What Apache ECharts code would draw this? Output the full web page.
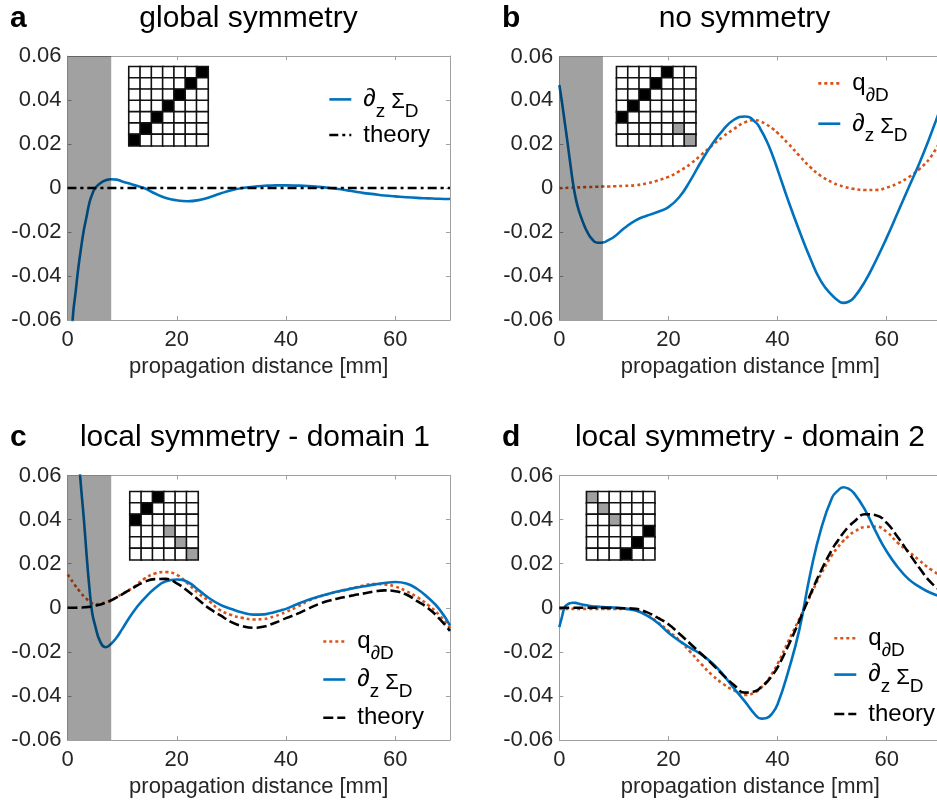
<!DOCTYPE html>
<html>
<head>
<meta charset="utf-8">
<script src="https://cdn.jsdelivr.net/npm/echarts@6/dist/echarts.min.js"></script>
<style>
  html, body { margin: 0; padding: 0; overflow: hidden; background: #fff; }
  #chart { width: 945px; height: 801px; }
</style>
</head>
<body>
<div id="chart"></div>
<script>
// propagation distance samples [mm], shared by every curve
const distance = [0, 0.5, 1, 1.5, 2, 2.5, 3, 3.5, 4, 4.5, 5,
  6, 7, 8, 9, 10,
  12, 14, 16, 18, 20,
  22, 24, 26, 28, 30,
  32, 34, 36, 37, 38, 39, 40,
  42, 44, 46, 48, 50,
  51, 52, 53, 54, 56, 58, 60,
  62, 64, 66, 68, 70];

// (a) global symmetry
const aDz = [-0.110, -0.082, -0.058, -0.047, -0.036, -0.027, -0.019, -0.013, -0.0068, -0.003, -0.0003,
  0.0022, 0.0035, 0.0040, 0.0038, 0.0030,
  0.0015, 0.0000, -0.0025, -0.0045, -0.0056,
  -0.0060, -0.0055, -0.0042, -0.0025, -0.0010,
  0.0000, 0.0006, 0.0010, 0.0011, 0.0012, 0.0012, 0.0012,
  0.0011, 0.0009, 0.0005, 0.0000, -0.0006,
  -0.0010, -0.0014, -0.0018, -0.0022, -0.0028, -0.0034, -0.0038,
  -0.0042, -0.0045, -0.0047, -0.0049, -0.0050];
const aTheoryX = [0, 70];
const aTheory = [0, 0];

// (b) no symmetry
const bQ = [0, 0.0001, 0.0001, 0.0002, 0.0002, 0.0003, 0.0003, 0.0004, 0.0004, 0.0005, 0.0005,
  0.0006, 0.0007, 0.0008, 0.0008, 0.0009,
  0.0011, 0.0014, 0.0022, 0.0035, 0.0052,
  0.0078, 0.0110, 0.0152, 0.0195, 0.0235,
  0.0270, 0.0300, 0.0310, 0.0303, 0.0290, 0.0273, 0.0252,
  0.0202, 0.0148, 0.0096, 0.0055, 0.0027,
  0.0016, 0.0008, 0.0002, -0.0003, -0.0008, -0.0008, 0.0003,
  0.0022, 0.0050, 0.0088, 0.0140, 0.0225];
const bDz = [0.047, 0.039, 0.030, 0.021, 0.0115, 0.0025, -0.0045, -0.0095, -0.0132, -0.0165, -0.0193,
  -0.0232, -0.0248, -0.0247, -0.0236, -0.0222,
  -0.0180, -0.0146, -0.0125, -0.0108, -0.0086,
  -0.0040, 0.0035, 0.0122, 0.0200, 0.0265,
  0.0312, 0.0327, 0.0300, 0.0263, 0.0215, 0.0155, 0.0085,
  -0.0060, -0.0195, -0.0320, -0.0425, -0.0488,
  -0.0510, -0.0522, -0.0517, -0.0498, -0.0425, -0.0330, -0.0225,
  -0.0112, 0.0002, 0.0115, 0.0240, 0.0375];

// (c) local symmetry - domain 1
const cQ = [0.0150, 0.0135, 0.0115, 0.0098, 0.0082, 0.0066, 0.0052, 0.0040, 0.0028, 0.0020, 0.0016,
  0.0018, 0.0024, 0.0033, 0.0048, 0.0062,
  0.0092, 0.0130, 0.0155, 0.0162, 0.0149,
  0.0110, 0.0065, 0.0028, -0.0012, -0.0033,
  -0.0046, -0.0053, -0.0051, -0.0045, -0.0038, -0.0029, -0.0019,
  0.0004, 0.0030, 0.0050, 0.0064, 0.0075,
  0.0082, 0.0088, 0.0094, 0.0100, 0.0108, 0.0106, 0.0096,
  0.0075, 0.0048, 0.0012, -0.0032, -0.0092];
const cDz = [0.130, 0.112, 0.096, 0.082, 0.069, 0.054, 0.040, 0.0238, 0.0093, -0.0020, -0.0075,
  -0.0155, -0.0179, -0.0163, -0.0135, -0.0097,
  -0.0020, 0.0040, 0.0088, 0.0120, 0.0128,
  0.0117, 0.0080, 0.0042, 0.0013, -0.0006,
  -0.0022, -0.0031, -0.0030, -0.0025, -0.0019, -0.0012, -0.0005,
  0.0016, 0.0035, 0.0051, 0.0065, 0.0077,
  0.0082, 0.0087, 0.0092, 0.0096, 0.0105, 0.0112, 0.0117,
  0.0110, 0.0085, 0.0045, -0.0005, -0.0080];
const cTheory = [0, 0, 0, 0, 0.0001, 0.0001, 0.0002, 0.0003, 0.0004, 0.0006, 0.0009,
  0.0015, 0.0024, 0.0034, 0.0047, 0.0061,
  0.0090, 0.0116, 0.0130, 0.0131, 0.0111,
  0.0076, 0.0035, -0.0004, -0.0035, -0.0065,
  -0.0083, -0.0091, -0.0085, -0.0077, -0.0068, -0.0058, -0.0047,
  -0.0028, -0.0005, 0.0017, 0.0033, 0.0045,
  0.0050, 0.0055, 0.0060, 0.0064, 0.0073, 0.0079, 0.0075,
  0.0060, 0.0030, -0.0002, -0.0048, -0.0105];

// (d) local symmetry - domain 2
const dQ = [-0.0005, -0.0005, -0.0005, -0.0005, -0.0005, -0.0005, -0.0005, -0.0005, -0.0005, -0.0005, -0.0005,
  -0.0005, -0.0005, -0.0005, -0.0005, -0.0005,
  -0.0005, -0.0012, -0.0032, -0.0065, -0.0105,
  -0.0148, -0.0200, -0.0255, -0.0305, -0.0345,
  -0.0375, -0.0396, -0.0382, -0.0362, -0.0335, -0.0298, -0.0255,
  -0.0150, -0.0050, 0.0055, 0.0155, 0.0240,
  0.0273, 0.0302, 0.0325, 0.0344, 0.0366, 0.0368, 0.0344,
  0.0295, 0.0255, 0.0215, 0.0175, 0.0145];
const dDz = [-0.0088, -0.0040, 0.0003, 0.0015, 0.0021, 0.0023, 0.0022, 0.0019, 0.0016, 0.0013, 0.0011,
  0.0007, 0.0005, 0.0003, 0.0002, 0.0001,
  -0.0004, -0.0013, -0.0035, -0.0068, -0.0113,
  -0.0150, -0.0182, -0.0212, -0.0251, -0.0303,
  -0.0365, -0.0425, -0.0488, -0.0503, -0.0500, -0.0480, -0.0438,
  -0.0285, -0.0098, 0.0155, 0.0360, 0.0500,
  0.0530, 0.0547, 0.0540, 0.0520, 0.0445, 0.0345, 0.0255,
  0.0185, 0.0130, 0.0095, 0.0068, 0.0050];
const dTheory = [0, 0, 0, 0, 0, 0, 0, 0, 0, 0, 0,
  0, 0, 0, -0.0001, -0.0001,
  -0.0002, -0.0005, -0.0020, -0.0045, -0.0075,
  -0.0118, -0.0163, -0.0209, -0.0255, -0.0305,
  -0.0350, -0.0385, -0.0378, -0.0360, -0.0338, -0.0307, -0.0270,
  -0.0170, -0.0058, 0.0060, 0.0170, 0.0265,
  0.0303, 0.0338, 0.0367, 0.0390, 0.0424, 0.0420, 0.0385,
  0.0321, 0.0250, 0.0180, 0.0117, 0.0075];

// shaded input region [mm]
const shadeRange = [0, 8];

// axis ticks
const xTicks = ['0', '20', '40', '60'];
const yTicks = ['-0.06', '-0.04', '-0.02', '0', '0.02', '0.04', '0.06'];

// coupling-matrix sketches: 0 empty, 1 black, 2 grey
const matA = ['0000001', '0000010', '0000100', '0001000', '0010000', '0100000', '1000000'];
const matB = ['0000100', '0001000', '0010000', '0100000', '1000000', '0000020', '0000002'];
const matC = ['001000', '010000', '100000', '000200', '000020', '000002'];
const matD = ['200000', '020000', '002000', '000001', '000010', '000100'];

const FONT = '"Liberation Sans", Arial, Helvetica, sans-serif';
const BLUE = '#0072BD', ORANGE = '#D95319', BLACK = '#000000';
const AXIS = '#a0a0a0';
const X_MIN = 0, X_MAX = 70, X_STEP = 20;
const Y_MIN = -0.06, Y_MAX = 0.06, Y_STEP = 0.02;

// legend entries are placed one by one: top of each entry block
const panels = [
  { key: 'a', title: 'global symmetry', grid: { left: 67.5, top: 56, width: 382.5, height: 264 },
    titleX: 248.5, titleY: 19, letterX: 10,
    inset: { mat: matA, left: 129, top: 66.7, size: 79 },
    legendLeft: 328, shade: true,
    series: [
      { id: 'dz', x: distance, y: aDz, color: BLUE, type: 'solid', legendTop: 77.4 },
      { id: 'theory', x: aTheoryX, y: aTheory, color: BLACK, type: [9, 4, 3, 4], legendTop: 123 }
    ] },
  { key: 'b', title: 'no symmetry', grid: { left: 559.3, top: 56.5, width: 382, height: 263.5 },
    titleX: 744.5, titleY: 19, letterX: 502,
    inset: { mat: matB, left: 616.7, top: 66.7, size: 79 },
    legendLeft: 817, shade: true,
    series: [
      { id: 'q', x: distance, y: bQ, color: ORANGE, type: [3, 3], legendTop: 61.4 },
      { id: 'dz', x: distance, y: bDz, color: BLUE, type: 'solid', legendTop: 101.7 }
    ] },
  { key: 'c', title: 'local symmetry - domain 1', grid: { left: 67.5, top: 475.5, width: 382.5, height: 264.5 },
    titleX: 255, titleY: 438, letterX: 10,
    inset: { mat: matC, left: 130, top: 491.7, size: 68 },
    legendLeft: 322, shade: true,
    series: [
      { id: 'q', x: distance, y: cQ, color: ORANGE, type: [3, 3], legendTop: 619.5 },
      { id: 'dz', x: distance, y: cDz, color: BLUE, type: 'solid', legendTop: 657.5 },
      { id: 'theory', x: distance, y: cTheory, color: BLACK, type: [10, 4], legendTop: 705.7 }
    ] },
  { key: 'd', title: 'local symmetry - domain 2', grid: { left: 559.3, top: 475.5, width: 382, height: 264.5 },
    titleX: 750, titleY: 438, letterX: 502,
    inset: { mat: matD, left: 586.7, top: 491.7, size: 68 },
    legendLeft: 833, shade: false,
    series: [
      { id: 'q', x: distance, y: dQ, color: ORANGE, type: [3, 3], legendTop: 616.3 },
      { id: 'dz', x: distance, y: dDz, color: BLUE, type: 'solid', legendTop: 652.6 },
      { id: 'theory', x: distance, y: dTheory, color: BLACK, type: [10, 4], legendTop: 702 }
    ] }
];

const legendText = {
  dz: '{sym|∂}{sub|z}{sig| Σ}{sub|D}',
  q: '{main|q}{sub|∂D}',
  theory: '{th|theory}'
};

const legendRich = {
  main: { fontFamily: FONT, fontSize: 24, lineHeight: 28, color: '#000' },
  th: { fontFamily: FONT, fontSize: 24, lineHeight: 40, color: '#000' },
  sym: { fontFamily: FONT, fontSize: 25, lineHeight: 28, color: '#000' },
  sig: { fontFamily: FONT, fontSize: 22, lineHeight: 24, padding: [6, 0, 0, 0], color: '#000' },
  sub: { fontFamily: FONT, fontSize: 19, lineHeight: 14, padding: [25, 0, 0, 0], color: '#000' }
};

const grids = [], xAxes = [], yAxes = [], series = [], legends = [], graphics = [];
const heatmapIndices = [];

function yLabel(v) {
  return yTicks[Math.round((v - Y_MIN) / Y_STEP)];
}
function xLabel(v) {
  return xTicks[Math.round((v - X_MIN) / X_STEP)] || '';
}

panels.forEach(p => {
  // main plot grid + mirrored top/right axes (box with inward ticks)
  const gi = grids.length;
  grids.push(Object.assign({ containLabel: false }, p.grid));
  const xb = xAxes.length;
  xAxes.push({
    gridIndex: gi, type: 'value', position: 'bottom', min: X_MIN, max: X_MAX, interval: X_STEP,
    name: 'propagation distance [mm]', nameLocation: 'middle', nameGap: 36,
    nameTextStyle: { fontFamily: FONT, fontSize: 22, color: '#262626' },
    axisLine: { show: true, onZero: false, lineStyle: { color: AXIS, width: 1 } },
    axisTick: { show: true, inside: true, length: 4, lineStyle: { color: AXIS } },
    axisLabel: { fontFamily: FONT, fontSize: 22, color: '#262626', margin: 9,
      showMaxLabel: false, formatter: xLabel },
    splitLine: { show: false }
  });
  xAxes.push({
    gridIndex: gi, type: 'value', position: 'top', min: X_MIN, max: X_MAX, interval: X_STEP,
    axisLine: { show: true, onZero: false, lineStyle: { color: AXIS, width: 1 } },
    axisTick: { show: true, inside: true, length: 4, lineStyle: { color: AXIS } },
    axisLabel: { show: false }, splitLine: { show: false }
  });
  const yb = yAxes.length;
  yAxes.push({
    gridIndex: gi, type: 'value', position: 'left', min: Y_MIN, max: Y_MAX, interval: Y_STEP,
    axisLine: { show: true, onZero: false, lineStyle: { color: AXIS, width: 1 } },
    axisTick: { show: true, inside: true, length: 4, lineStyle: { color: AXIS } },
    axisLabel: { fontFamily: FONT, fontSize: 22, color: '#262626', margin: 6, formatter: yLabel },
    splitLine: { show: false }
  });
  yAxes.push({
    gridIndex: gi, type: 'value', position: 'right', min: Y_MIN, max: Y_MAX, interval: Y_STEP,
    axisLine: { show: true, onZero: false, lineStyle: { color: AXIS, width: 1 } },
    axisTick: { show: true, inside: true, length: 4, lineStyle: { color: AXIS } },
    axisLabel: { show: false }, splitLine: { show: false }
  });

  p.series.forEach(s => {
    const name = p.key + '.' + s.id;
    series.push({
      name, type: 'line', xAxisIndex: xb, yAxisIndex: yb,
      data: s.x.map((x, k) => [x, s.y[k]]),
      smooth: 0.5, symbol: 'none', showSymbol: false, clip: true, silent: true,
      lineStyle: { color: s.color, width: 2.6, type: s.type, cap: 'butt' },
      itemStyle: { color: s.color }, z: 3, animation: false
    });
    legends.push({
      orient: 'vertical', left: p.legendLeft, top: s.legendTop, padding: 0,
      itemWidth: 22, itemHeight: 14, selectedMode: false,
      data: [name],
      itemStyle: { opacity: 0 },
      lineStyle: { width: 2.6, type: 'inherit', color: 'inherit' },
      formatter: n => legendText[n.split('.')[1]],
      textStyle: { padding: [0, 0, 0, 7], color: '#000', fontFamily: FONT, rich: legendRich }
    });
  });

  if (p.shade) {
    // translucent overlay of the input region, drawn above the curves
    series.push({
      type: 'line', xAxisIndex: xb, yAxisIndex: yb, data: [], silent: true, z: 10,
      markArea: {
        silent: true, z: 10, animation: false,
        itemStyle: { color: 'rgba(0,0,0,0.37)', borderWidth: 0 },
        data: [[{ xAxis: shadeRange[0] }, { xAxis: shadeRange[1] }]]
      }
    });
  }

  // coupling-matrix sketch
  const n = p.inset.mat.length;
  const ig = grids.length;
  grids.push({ left: p.inset.left, top: p.inset.top, width: p.inset.size, height: p.inset.size });
  const cats = p.inset.mat.map((_, k) => String(k));
  const ix = xAxes.length;
  xAxes.push({ gridIndex: ig, type: 'category', data: cats, show: false });
  const iy = yAxes.length;
  yAxes.push({ gridIndex: ig, type: 'category', data: cats, inverse: true, show: false });
  const cells = [];
  p.inset.mat.forEach((row, r) => {
    for (let c = 0; c < n; c++) cells.push([c, r, Number(row[c])]);
  });
  heatmapIndices.push(series.length);
  series.push({
    type: 'heatmap', xAxisIndex: ix, yAxisIndex: iy, data: cells, silent: true, z: 4,
    itemStyle: { borderColor: '#111', borderWidth: 1.6 }, animation: false
  });

  graphics.push({
    type: 'text', x: p.titleX, y: p.titleY, silent: true,
    style: { text: p.title, fill: '#000', font: '30px ' + FONT, align: 'center', verticalAlign: 'middle' }
  });
  graphics.push({
    type: 'text', x: p.letterX, y: p.titleY, silent: true,
    style: { text: p.key, fill: '#000', font: 'bold 30px ' + FONT, align: 'left', verticalAlign: 'middle' }
  });
});

const chart = echarts.init(document.getElementById('chart'), null, { renderer: 'canvas' });
chart.setOption({
  backgroundColor: '#ffffff',
  animation: false,
  grid: grids,
  xAxis: xAxes,
  yAxis: yAxes,
  legend: legends,
  visualMap: {
    type: 'piecewise', show: false, seriesIndex: heatmapIndices, dimension: 2,
    pieces: [
      { value: 0, color: '#ffffff' },
      { value: 1, color: '#000000' },
      { value: 2, color: '#a0a0a0' }
    ]
  },
  graphic: graphics,
  series
});
</script>
</body>
</html>
